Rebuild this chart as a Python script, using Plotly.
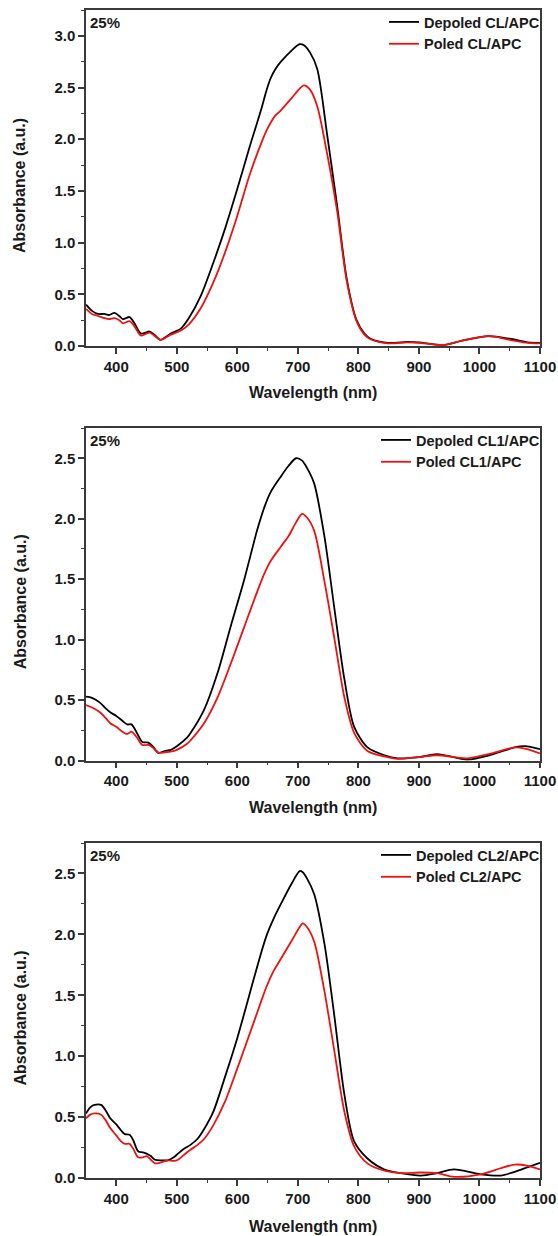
import plotly.graph_objects as go

# ---------------- data ----------------
wl_1 = [350, 360, 370, 380, 388, 397, 405, 411, 422, 430, 441, 455, 463, 473, 490, 507, 520, 540,
        560, 580, 600, 620, 640, 648, 655, 663, 672, 690, 703, 710, 720, 732, 748, 765, 781, 797, 810, 820,
        842, 860, 880, 900, 940, 970, 1015, 1050, 1080, 1100]
depoled_cl = [0.40, 0.34, 0.31, 0.31, 0.30, 0.32, 0.29, 0.26, 0.28, 0.22, 0.12, 0.14, 0.11, 0.06, 0.12, 0.17, 0.27, 0.49,
              0.80, 1.14, 1.52, 1.92, 2.30, 2.47, 2.59, 2.68, 2.75, 2.86, 2.92, 2.91, 2.84, 2.68, 2.06, 1.35, 0.64, 0.25, 0.12, 0.07,
              0.035, 0.03, 0.04, 0.035, 0.01, 0.05, 0.095, 0.07, 0.035, 0.03]
poled_cl = [0.36, 0.31, 0.29, 0.27, 0.26, 0.27, 0.25, 0.22, 0.24, 0.19, 0.10, 0.13, 0.10, 0.06, 0.11, 0.15, 0.21, 0.37,
            0.61, 0.91, 1.26, 1.65, 1.97, 2.08, 2.16, 2.23, 2.28, 2.40, 2.49, 2.52, 2.48, 2.32, 1.87, 1.30, 0.62, 0.24, 0.11, 0.065,
            0.03, 0.025, 0.035, 0.03, 0.01, 0.05, 0.095, 0.06, 0.03, 0.025]

wl_2 = [350, 360, 373, 383, 390, 400, 410, 418, 425, 433, 443, 453, 460, 470, 480, 490, 500, 517, 523, 545,
        567, 589, 611, 633, 645, 655, 672, 685, 697, 707, 715, 727, 744, 760, 777, 793, 815, 843, 865, 900, 930,
        980, 1020, 1058, 1075, 1100]
depoled_cl1 = [0.53, 0.52, 0.48, 0.43, 0.40, 0.37, 0.33, 0.30, 0.30, 0.24, 0.155, 0.15, 0.12, 0.065, 0.08, 0.09, 0.12, 0.19, 0.23, 0.42,
               0.72, 1.11, 1.49, 1.91, 2.10, 2.22, 2.35, 2.44, 2.50, 2.48, 2.42, 2.29, 1.85, 1.27, 0.67, 0.28, 0.11, 0.045, 0.02, 0.03, 0.055,
               0.01, 0.05, 0.11, 0.12, 0.095]
poled_cl1 = [0.46, 0.44, 0.40, 0.35, 0.31, 0.28, 0.24, 0.22, 0.24, 0.20, 0.13, 0.13, 0.11, 0.065, 0.07, 0.075, 0.09, 0.14, 0.17, 0.31,
             0.52, 0.80, 1.10, 1.40, 1.55, 1.65, 1.77, 1.86, 1.97, 2.04, 2.01, 1.90, 1.48, 1.02, 0.52, 0.23, 0.08, 0.035, 0.015, 0.03, 0.045,
             0.02, 0.06, 0.11, 0.10, 0.06]

wl_3 = [350, 357, 364, 375, 383, 390, 400, 408, 414, 422, 428, 436, 444, 450, 457, 464, 475, 485, 495, 502,
        512, 522, 534, 545, 560, 579, 600, 628, 640, 649, 660, 672, 690, 703, 708, 715, 727, 744, 760, 777, 793, 815,
        843, 870, 903, 930, 958, 1002, 1035, 1058, 1080, 1100]
depoled_cl2 = [0.53, 0.58, 0.60, 0.60, 0.55, 0.49, 0.44, 0.39, 0.36, 0.355, 0.31, 0.22, 0.21, 0.20, 0.18, 0.15, 0.145, 0.145, 0.17, 0.20,
               0.24, 0.27, 0.32, 0.40, 0.54, 0.82, 1.15, 1.65, 1.86, 2.00, 2.13, 2.25, 2.42, 2.52, 2.51, 2.46, 2.33, 1.92, 1.34, 0.68, 0.30, 0.16,
               0.07, 0.04, 0.02, 0.04, 0.07, 0.03, 0.02, 0.05, 0.09, 0.125]
poled_cl2 = [0.49, 0.52, 0.53, 0.52, 0.47, 0.41, 0.35, 0.30, 0.28, 0.28, 0.24, 0.17, 0.17, 0.18, 0.15, 0.12, 0.13, 0.145, 0.14, 0.15,
             0.19, 0.23, 0.27, 0.32, 0.43, 0.62, 0.90, 1.29, 1.46, 1.58, 1.70, 1.80, 1.95, 2.06, 2.09, 2.06, 1.94, 1.53, 1.05, 0.54, 0.26, 0.12,
             0.06, 0.04, 0.045, 0.04, 0.01, 0.03, 0.08, 0.11, 0.10, 0.07]

panels = [
    (wl_1, depoled_cl, poled_cl, "Depoled CL/APC", "Poled CL/APC", 3.25),
    (wl_2, depoled_cl1, poled_cl1, "Depoled CL1/APC", "Poled CL1/APC", 2.75),
    (wl_3, depoled_cl2, poled_cl2, "Depoled CL2/APC", "Poled CL2/APC", 2.75),
]
x_ticks = [400, 500, 600, 700, 800, 900, 1000, 1100]
panel_label = "25%"
x_title = "Wavelength (nm)"
y_title = "Absorbance (a.u.)"

# ---------------- layout geometry (pixels) ----------------
W, H = 558, 1236
left_px, right_px = 86, 540
boxes = [(10, 346), (428, 760.7), (843, 1178)]   # top, bottom of each plot area
xtitle_y = [393, 807, 1226]

def py(y):
    return 1 - y / H

FONT = "Liberation Sans, Arial, sans-serif"
AX = "#3a3a3a"
TXT = "#1a1a1a"

fig = go.Figure()
layout = dict(
    width=W, height=H, margin=dict(l=0, r=0, t=0, b=0, autoexpand=False),
    paper_bgcolor="white", plot_bgcolor="white",
    font=dict(family=FONT, color=TXT),
    annotations=[],
)

for i, (wl, dep, pol, ldep, lpol, ymax) in enumerate(panels):
    n = "" if i == 0 else str(i + 1)
    leg = "legend" if i == 0 else f"legend{i + 1}"
    top, bot = boxes[i]
    fig.add_trace(go.Scatter(x=wl, y=dep, mode="lines", name=ldep,
                             line=dict(color="#000000", width=1.8, shape="spline", smoothing=0.8),
                             xaxis="x" + n, yaxis="y" + n, legend=leg))
    fig.add_trace(go.Scatter(x=wl, y=pol, mode="lines", name=lpol,
                             line=dict(color="#ee1111", width=1.8, shape="spline", smoothing=0.8),
                             xaxis="x" + n, yaxis="y" + n, legend=leg))
    layout["xaxis" + n] = dict(
        domain=[left_px / W, right_px / W], anchor="y" + n, range=[350, 1100], automargin=False,
        tickvals=x_ticks, ticks="outside", ticklen=6, tickwidth=1.5, tickcolor=AX,
        showline=True, linecolor=AX, linewidth=1.5, mirror=True,
        showgrid=False, zeroline=False,
        tickfont=dict(family=FONT, size=15, weight="bold", color=TXT),
        minor=dict(ticks="outside", ticklen=3, tickwidth=1.2, tickcolor=AX,
                   tickvals=[450, 550, 650, 750, 850, 950, 1050]),
    )
    layout["yaxis" + n] = dict(
        domain=[py(bot), py(top)], anchor="x" + n, range=[0, ymax], automargin=False,
        dtick=0.5, tick0=0, tickformat=".1f", ticks="outside", ticklen=6, tickwidth=1.5, tickcolor=AX,
        showline=True, linecolor=AX, linewidth=1.5, mirror=True,
        showgrid=False, zeroline=False,
        tickfont=dict(family=FONT, size=15, weight="bold", color=TXT),
        minor=dict(ticks="outside", ticklen=3, tickwidth=1.2, tickcolor=AX, dtick=0.25, tick0=0),
    )
    layout[leg] = dict(
        x=545 / W, xanchor="right", y=py(top - 4), yanchor="top",
        bgcolor="rgba(0,0,0,0)", borderwidth=0, tracegroupgap=0,
        font=dict(family=FONT, size=14.5, weight="bold", color=TXT),
        itemwidth=30,
    )
    layout["annotations"] += [
        dict(text=panel_label, xref="paper", yref="paper", x=88 / W, y=py(top + 2),
             xanchor="left", yanchor="top", showarrow=False,
             font=dict(family=FONT, size=15, weight="bold", color=TXT)),
        dict(text=x_title, xref="paper", yref="paper", x=(left_px + right_px) / 2 / W, y=py(xtitle_y[i]),
             xanchor="center", yanchor="middle", showarrow=False,
             font=dict(family=FONT, size=16, weight="bold", color=TXT)),
        dict(text=y_title, xref="paper", yref="paper", x=20 / W, y=py((top + bot) / 2 + 8),
             xanchor="center", yanchor="middle", showarrow=False, textangle=-90,
             font=dict(family=FONT, size=16, weight="bold", color=TXT)),
    ]

fig.update_layout(**layout)
fig.write_html("out.html", config={"displayModeBar": False},
               post_script="document.body.style.margin='0';document.body.style.overflow='hidden';")
